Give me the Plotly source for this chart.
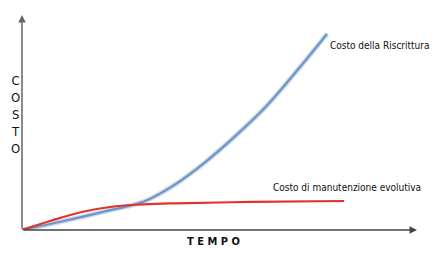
import plotly.graph_objects as go

# data (t: time units, cost units)
blue_t = [0, 10, 20, 30, 40, 50, 60, 70, 80, 90, 100]
blue_c = [0, 3.3, 6.8, 10.5, 14.5, 23, 34.5, 48, 63, 81, 100]
red_t = [0, 10, 20, 30, 40, 50, 75, 105.6]
red_c = [0, 5, 9.3, 12, 13.1, 13.6, 14.3, 14.8]
blue_label = "Costo della Riscrittura"
red_label = "Costo di manutenzione evolutiva"
x_title = "T E M P O"
y_title = "C<br>O<br>S<br>T<br>O"

XMAX = 129.5
YMAX = 109.7
FONT = "DejaVu Sans Condensed, Liberation Sans, sans-serif"

fig = go.Figure()
fig.add_trace(go.Scatter(x=blue_t, y=blue_c, mode="lines", line=dict(color="rgba(112,150,200,0.35)", width=5, shape="spline"), hoverinfo="skip"))
fig.add_trace(go.Scatter(x=blue_t, y=blue_c, mode="lines", line=dict(color="#6f95c6", width=2.2, shape="spline")))
fig.add_trace(go.Scatter(x=red_t, y=red_c, mode="lines", line=dict(color="#e2332b", width=2.2, shape="spline")))

fig.add_annotation(x=0, y=YMAX, ax=0, ay=0, xref="x", yref="y", axref="x", ayref="y",
                   showarrow=True, arrowhead=2, arrowsize=1, arrowwidth=1.5, arrowcolor="#666666", text="")
fig.add_annotation(x=XMAX, y=0, ax=0, ay=0, xref="x", yref="y", axref="x", ayref="y",
                   showarrow=True, arrowhead=2, arrowsize=1, arrowwidth=1.5, arrowcolor="#444444", text="")

fig.add_annotation(x=blue_t[-1], y=blue_c[-1], text=blue_label, showarrow=False, xanchor="left",
                   xshift=1, yshift=-11, font=dict(family=FONT, size=10, color="#111"))
fig.add_annotation(x=red_t[-1], y=red_c[-1], text=red_label, showarrow=False, xanchor="right",
                   xshift=79, yshift=13, font=dict(family=FONT, size=10, color="#111"))
fig.add_annotation(x=0.486, y=0, xref="paper", yref="paper", yanchor="top", yshift=-3,
                   text=x_title, showarrow=False, font=dict(family=FONT, size=11, color="#111", weight="bold"))
fig.add_annotation(xref="paper", yref="y", x=0, xshift=-13, y=59, text=y_title, showarrow=False,
                   align="center", font=dict(family=FONT, size=13, color="#111"))

fig.update_xaxes(range=[0, XMAX], visible=False)
fig.update_yaxes(range=[0, YMAX], visible=False)
fig.update_layout(width=436, height=256, margin=dict(l=22, r=19, t=15, b=26),
                  showlegend=False, plot_bgcolor="white", paper_bgcolor="white")
fig.write_html("out.html")
